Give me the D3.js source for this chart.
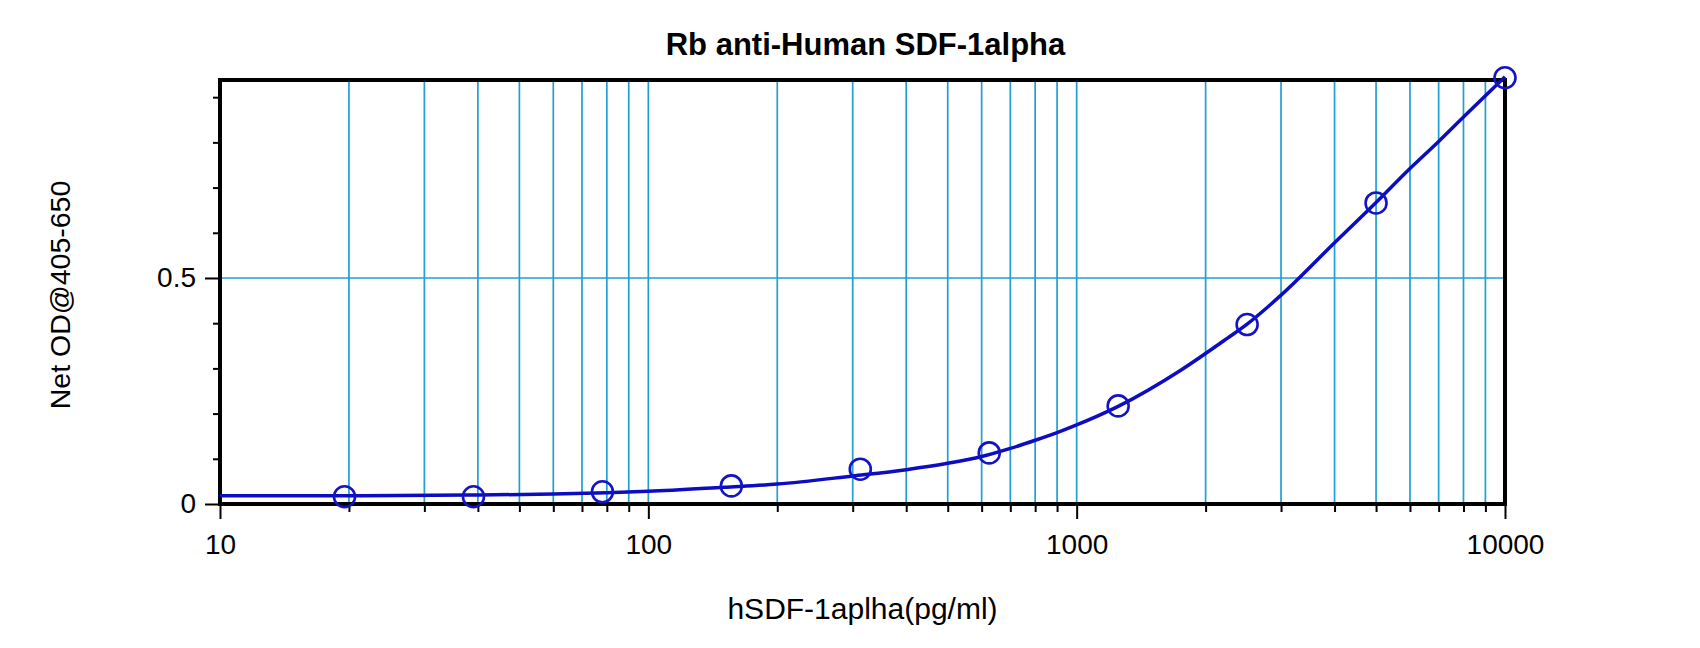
<!DOCTYPE html>
<html>
<head>
<meta charset="utf-8">
<script src="https://cdn.jsdelivr.net/npm/d3@7"></script>
<style>
  body { margin: 0; background: #fff; }
  svg text { font-family: "Liberation Sans", Arial, sans-serif; fill: #000; }
</style>
</head>
<body>
<svg id="chart" width="1700" height="648"></svg>
<script>
// standard curve points (pg/ml vs net OD)
const conc = [19.53, 39.06, 78.13, 156.25, 312.5, 625, 1250, 2500, 5000, 10000];
const od = [0.016, 0.016, 0.027, 0.040, 0.077, 0.113, 0.217, 0.397, 0.666, 0.943];

// fitted curve
const curveX = [10, 20, 40, 60, 80, 100, 150, 200, 300, 400, 500, 600, 700, 800, 900, 1000,
  1250, 1750, 2250, 2500, 3000, 4000, 5000, 6000, 7000, 8000, 9000, 10000];
const curveY = [0.018, 0.018, 0.020, 0.022, 0.025, 0.028, 0.037, 0.044, 0.062, 0.076, 0.090,
  0.105, 0.123, 0.141, 0.158, 0.175, 0.216, 0.296, 0.367, 0.398, 0.462, 0.578, 0.667, 0.742,
  0.802, 0.856, 0.903, 0.945];

const xMajor = [10, 100, 1000, 10000];
const xMinor = [20, 30, 40, 50, 60, 70, 80, 90, 200, 300, 400, 500, 600, 700, 800, 900,
  2000, 3000, 4000, 5000, 6000, 7000, 8000, 9000];
const yMajor = [0, 0.5];
const yMinor = [0.1, 0.2, 0.3, 0.4, 0.6, 0.7, 0.8, 0.9];

const title = "Rb anti-Human SDF-1alpha";
const xTitle = "hSDF-1aplha(pg/ml)";
const yTitle = "Net OD@405-650";

const svg = d3.select("#chart");
const margin = { top: 80, right: 195, bottom: 144, left: 220 };
const width = +svg.attr("width") - margin.left - margin.right;
const height = +svg.attr("height") - margin.top - margin.bottom;

const x = d3.scaleLog().domain([10, 10000]).range([0, width]);
const y = d3.scaleLinear().domain([0, 0.938]).range([height, 0]);

const g = svg.append("g")
    .attr("transform", "translate(" + margin.left + "," + margin.top + ")");

const gridColor = "#1f9fd3";

// vertical grid at every log tick
g.selectAll(".vgrid")
    .data(xMinor.concat([100, 1000]))
    .enter().append("line")
    .attr("class", "vgrid")
    .attr("x1", d => x(d)).attr("x2", d => x(d))
    .attr("y1", 0).attr("y2", height)
    .attr("stroke", gridColor)
    .attr("stroke-width", 1.7);

g.append("line")
    .attr("x1", 0).attr("x2", width)
    .attr("y1", y(0.5)).attr("y2", y(0.5))
    .attr("stroke", gridColor)
    .attr("stroke-width", 1.7);

// axes: minor ticks without labels, major ticks with labels
const xMinorAxis = g.append("g")
    .attr("transform", "translate(0," + height + ")")
    .call(d3.axisBottom(x).tickValues(xMinor).tickSize(8).tickFormat(""));

const xMajorAxis = g.append("g")
    .attr("transform", "translate(0," + height + ")")
    .call(d3.axisBottom(x).tickValues(xMajor).tickSize(15).tickPadding(15)
        .tickFormat(d3.format("d")));

const yMinorAxis = g.append("g")
    .call(d3.axisLeft(y).tickValues(yMinor).tickSize(7).tickFormat(""));

const yMajorAxis = g.append("g")
    .call(d3.axisLeft(y).tickValues(yMajor).tickSize(15).tickPadding(9)
        .tickFormat(d => d === 0 ? "0" : d3.format(".1f")(d)));

[xMinorAxis, xMajorAxis, yMinorAxis, yMajorAxis].forEach(a => {
    a.select(".domain").remove();
    a.selectAll(".tick line").attr("stroke", "#000").attr("stroke-width", 2);
    a.selectAll(".tick text").attr("font-size", 28).attr("font-family", "Liberation Sans, Arial, sans-serif");
});

// frame
g.append("rect")
    .attr("x", 0).attr("y", 0)
    .attr("width", width).attr("height", height)
    .attr("fill", "none")
    .attr("stroke", "#000")
    .attr("stroke-width", 4);

// curve
const line = d3.line()
    .x(d => x(d[0]))
    .y(d => y(d[1]))
    .curve(d3.curveMonotoneX);

g.append("path")
    .datum(curveX.map((d, i) => [d, curveY[i]]))
    .attr("d", line)
    .attr("fill", "none")
    .attr("stroke", "#0c0cc0")
    .attr("stroke-width", 3.5);

g.selectAll("circle")
    .data(conc.map((d, i) => [d, od[i]]))
    .enter().append("circle")
    .attr("cx", d => x(d[0]))
    .attr("cy", d => y(d[1]))
    .attr("r", 10.5)
    .attr("fill", "none")
    .attr("stroke", "#1414c4")
    .attr("stroke-width", 2.6);

// labels
svg.append("text")
    .attr("x", margin.left + width / 2 + 3)
    .attr("y", 55)
    .attr("text-anchor", "middle")
    .attr("font-size", 31)
    .attr("font-weight", "bold")
    .text(title);

svg.append("text")
    .attr("x", margin.left + width / 2)
    .attr("y", 619)
    .attr("text-anchor", "middle")
    .attr("font-size", 30)
    .text(xTitle);

svg.append("text")
    .attr("transform", "translate(70," + 295 + ") rotate(-90)")
    .attr("text-anchor", "middle")
    .attr("font-size", 28.5)
    .text(yTitle);
</script>
</body>
</html>
